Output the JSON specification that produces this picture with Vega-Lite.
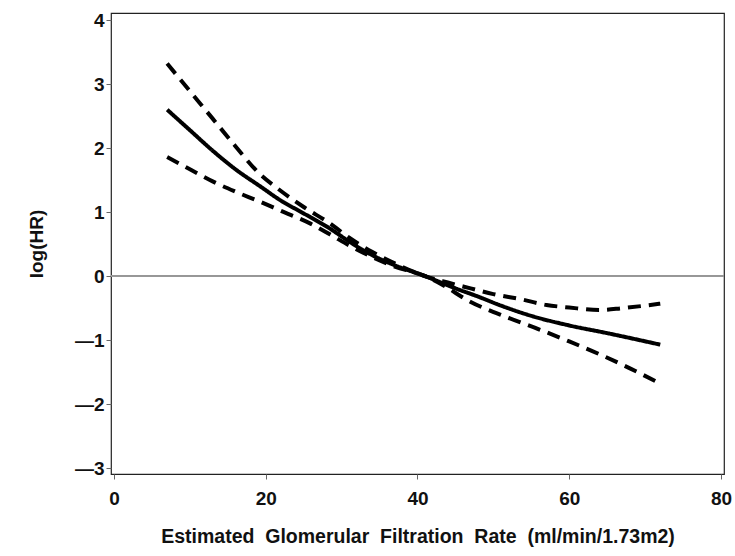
{
  "$schema": "https://vega.github.io/schema/vega-lite/v6.json",
  "width": 613,
  "height": 461,
  "autosize": {"type": "none"},
  "padding": {"left": 111, "top": 13, "right": 11, "bottom": 82},
  "background": "white",
  "config": {
    "view": {"stroke": "#222", "strokeWidth": 1.2},
    "font": "Liberation Sans",
    "axis": {
      "grid": false,
      "labelFont": "Liberation Sans",
      "titleFont": "Liberation Sans",
      "labelColor": "#111",
      "titleColor": "#111",
      "labelFontSize": 19,
      "labelFontWeight": "bold",
      "titleFontSize": 19.5,
      "titleFontWeight": "bold",
      "tickColor": "#666",
      "tickSize": 5,
      "domain": false
    }
  },
  "data": {
    "values": [
      {"x": 7, "y": 2.60, "s": "estimate"},
      {"x": 10, "y": 2.28, "s": "estimate"},
      {"x": 13, "y": 1.96, "s": "estimate"},
      {"x": 16, "y": 1.67, "s": "estimate"},
      {"x": 19.3, "y": 1.40, "s": "estimate"},
      {"x": 22, "y": 1.18, "s": "estimate"},
      {"x": 25, "y": 0.98, "s": "estimate"},
      {"x": 28.5, "y": 0.74, "s": "estimate"},
      {"x": 31, "y": 0.54, "s": "estimate"},
      {"x": 34, "y": 0.33, "s": "estimate"},
      {"x": 37, "y": 0.17, "s": "estimate"},
      {"x": 41, "y": 0.0, "s": "estimate"},
      {"x": 45, "y": -0.19, "s": "estimate"},
      {"x": 48, "y": -0.32, "s": "estimate"},
      {"x": 51, "y": -0.46, "s": "estimate"},
      {"x": 55, "y": -0.62, "s": "estimate"},
      {"x": 60, "y": -0.77, "s": "estimate"},
      {"x": 65, "y": -0.89, "s": "estimate"},
      {"x": 72, "y": -1.07, "s": "estimate"},
      {"x": 7, "y": 3.32, "s": "upper"},
      {"x": 10, "y": 2.89, "s": "upper"},
      {"x": 13, "y": 2.46, "s": "upper"},
      {"x": 16, "y": 2.03, "s": "upper"},
      {"x": 19, "y": 1.62, "s": "upper"},
      {"x": 22, "y": 1.33, "s": "upper"},
      {"x": 25, "y": 1.08, "s": "upper"},
      {"x": 28.5, "y": 0.82, "s": "upper"},
      {"x": 31, "y": 0.60, "s": "upper"},
      {"x": 34, "y": 0.38, "s": "upper"},
      {"x": 37, "y": 0.20, "s": "upper"},
      {"x": 41, "y": 0.0, "s": "upper"},
      {"x": 44, "y": -0.10, "s": "upper"},
      {"x": 47, "y": -0.19, "s": "upper"},
      {"x": 50, "y": -0.28, "s": "upper"},
      {"x": 53.6, "y": -0.36, "s": "upper"},
      {"x": 57, "y": -0.45, "s": "upper"},
      {"x": 60, "y": -0.49, "s": "upper"},
      {"x": 64, "y": -0.53, "s": "upper"},
      {"x": 67, "y": -0.50, "s": "upper"},
      {"x": 72, "y": -0.43, "s": "upper"},
      {"x": 7, "y": 1.86, "s": "lower"},
      {"x": 10, "y": 1.67, "s": "lower"},
      {"x": 13, "y": 1.48, "s": "lower"},
      {"x": 16, "y": 1.32, "s": "lower"},
      {"x": 19.3, "y": 1.16, "s": "lower"},
      {"x": 22, "y": 1.02, "s": "lower"},
      {"x": 25.9, "y": 0.82, "s": "lower"},
      {"x": 28.5, "y": 0.65, "s": "lower"},
      {"x": 31, "y": 0.48, "s": "lower"},
      {"x": 34, "y": 0.30, "s": "lower"},
      {"x": 37, "y": 0.15, "s": "lower"},
      {"x": 41, "y": 0.0, "s": "lower"},
      {"x": 43.5, "y": -0.15, "s": "lower"},
      {"x": 46.5, "y": -0.37, "s": "lower"},
      {"x": 52, "y": -0.65, "s": "lower"},
      {"x": 56, "y": -0.83, "s": "lower"},
      {"x": 60, "y": -1.02, "s": "lower"},
      {"x": 64, "y": -1.22, "s": "lower"},
      {"x": 68, "y": -1.44, "s": "lower"},
      {"x": 72, "y": -1.68, "s": "lower"}
    ]
  },
  "layer": [
    {
      "mark": {"type": "rule", "color": "#999", "strokeWidth": 1},
      "encoding": {"y": {"datum": 0, "type": "quantitative"}}
    },
    {
      "mark": {"type": "line", "color": "black", "strokeWidth": 4, "interpolate": "monotone", "strokeCap": "butt"},
      "encoding": {
        "x": {
          "field": "x", "type": "quantitative",
          "scale": {"domain": [-0.4, 80.4], "nice": false, "zero": false},
          "axis": {"values": [0, 20, 40, 60, 80], "format": "d", "title": "Estimated\u00a0 Glomerular\u00a0 Filtration\u00a0 Rate\u00a0 (ml/min/1.73m2)", "labelPadding": 10, "titlePadding": 19}
        },
        "y": {
          "field": "y", "type": "quantitative",
          "scale": {"domain": [-3.09, 4.11], "nice": false, "zero": false},
          "axis": {"values": [-3, -2, -1, 0, 1, 2, 3, 4], "format": "d", "labelExpr": "datum.value < 0 ? '\u2014' + (-datum.value) : datum.label", "title": "log(HR)", "titleFontSize": 19, "labelPadding": 2, "titlePadding": 28}
        },
        "strokeDash": {
          "field": "s", "type": "nominal",
          "scale": {"domain": ["estimate", "upper", "lower"], "range": [[1, 0], [13, 8], [13, 8]]},
          "legend": null
        }
      }
    }
  ]
}
